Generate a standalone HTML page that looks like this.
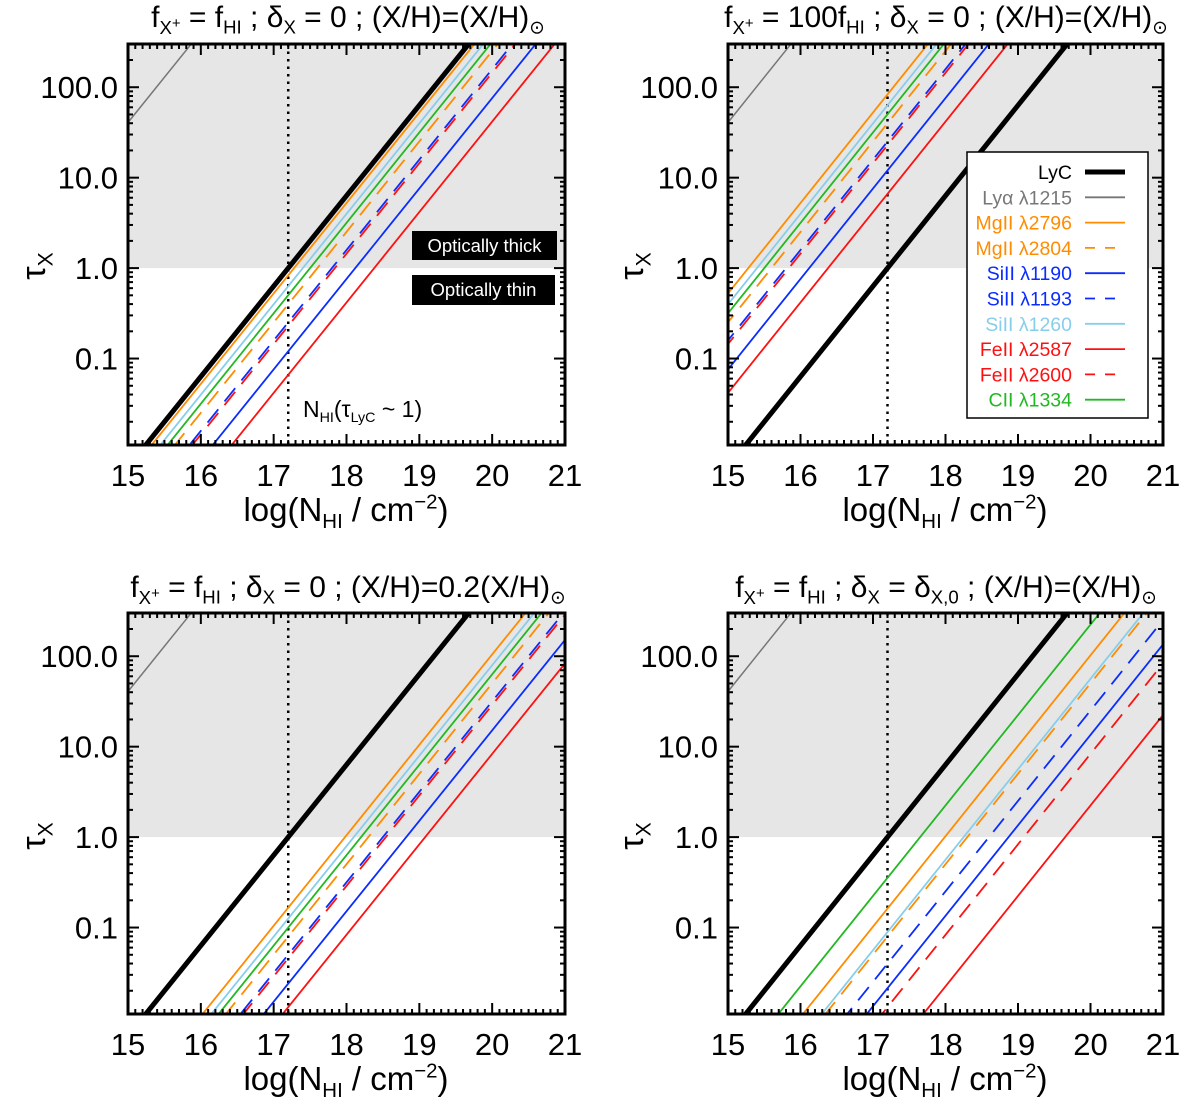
<!DOCTYPE html>
<html style="overflow:hidden"><head><meta charset="utf-8"><style>
html,body{margin:0;background:#fff;width:1200px;height:1107px;overflow:hidden}
body{position:relative;font-family:"Liberation Sans",Arial,sans-serif}
svg{position:absolute;left:0;top:0}
.t{position:absolute;font-size:30px;line-height:32px;white-space:nowrap;transform:translateX(-50%);color:#000}
.xl{position:absolute;font-size:33px;line-height:36px;white-space:nowrap;transform:translateX(-50%)}
.yl{position:absolute;font-size:34px;line-height:36px;white-space:nowrap;transform:translate(-50%,-50%) rotate(-90deg)}
sub{font-size:62%;vertical-align:-0.35em;line-height:0}
sup{font-size:62%;vertical-align:0.6em;line-height:0}
.sub2 sup{font-size:80%;vertical-align:0.4em}
</style></head><body>
<svg id="c" width="1200" height="1107"></svg>
<div class="t" style="left:348px;top:2px">f<sub class="sub2">X<sup>+</sup></sub> = f<sub>HI</sub> ; δ<sub>X</sub> = 0 ; (X/H)=(X/H)<sub>⊙</sub></div>
<div class="t" style="left:946px;top:2px">f<sub class="sub2">X<sup>+</sup></sub> = 100f<sub>HI</sub> ; δ<sub>X</sub> = 0 ; (X/H)=(X/H)<sub>⊙</sub></div>
<div class="t" style="left:348px;top:572px">f<sub class="sub2">X<sup>+</sup></sub> = f<sub>HI</sub> ; δ<sub>X</sub> = 0 ; (X/H)=0.2(X/H)<sub>⊙</sub></div>
<div class="t" style="left:946px;top:572px">f<sub class="sub2">X<sup>+</sup></sub> = f<sub>HI</sub> ; δ<sub>X</sub> = δ<sub>X,0</sub> ; (X/H)=(X/H)<sub>⊙</sub></div>
<div class="xl" style="left:346px;top:492px">log(N<sub>HI</sub> / cm<sup>−2</sup>)</div>
<div class="xl" style="left:945px;top:492px">log(N<sub>HI</sub> / cm<sup>−2</sup>)</div>
<div class="xl" style="left:346px;top:1061px">log(N<sub>HI</sub> / cm<sup>−2</sup>)</div>
<div class="xl" style="left:945px;top:1061px">log(N<sub>HI</sub> / cm<sup>−2</sup>)</div>
<div class="yl" style="left:34px;top:266px">τ<sub>X</sub></div>
<div class="yl" style="left:632px;top:266px">τ<sub>X</sub></div>
<div class="yl" style="left:34px;top:836px">τ<sub>X</sub></div>
<div class="yl" style="left:632px;top:836px">τ<sub>X</sub></div>
<div style="position:absolute;left:303px;top:396px;font-size:23px;line-height:26px;white-space:nowrap">N<sub>HI</sub>(τ<sub>LyC</sub> ~ 1)</div>
<div style="position:absolute;left:412px;top:231px;width:145px;height:29px;background:#000;color:#fff;font-size:18.5px;line-height:29px;text-align:center">Optically thick</div>
<div style="position:absolute;left:412px;top:275px;width:143px;height:30px;background:#000;color:#fff;font-size:18.5px;line-height:30px;text-align:center">Optically thin</div>
<script>
// data
const seriesNames=["LyA1215","MgII2804","MgII2796","SiII1260","CII1334","FeII2600","SiII1193","FeII2587","SiII1190","LyC"];
const seriesColors=["#777777","#ff8c00","#ff8c00","#87ceeb","#22b822","#ff1010","#0a2cff","#ff1010","#0a2cff","#000000"];
const seriesDashed=[false,true,false,false,false,true,true,false,false,false];
// logN(HI) at which tau = 1 for each series, per panel
const n0TopLeft=[13.39,17.6,17.28,17.4,17.5,17.84,17.8,18.38,18.12,17.2];
const n0TopRight=[13.39,15.6,15.28,15.4,15.5,15.84,15.8,16.38,16.12,17.2];
const n0BottomLeft=[13.39,18.3,17.98,18.1,18.2,18.54,18.5,19.08,18.82,17.2];
const n0BottomRight=[13.39,18.3,17.99,18.25,17.65,19.08,18.6,19.65,18.87,17.2];
const xTicks=[15,16,17,18,19,20,21];
const yTickVals=[0.1,1,10,100];
const yTickLabels=["0.1","1.0","10.0","100.0"];
const nLyCThin=17.2;

const NS="http://www.w3.org/2000/svg";
const svg=document.getElementById('c');
function mk(tag,attrs,parent){const e=document.createElementNS(NS,tag);for(const k in attrs)e.setAttribute(k,attrs[k]);(parent||svg).appendChild(e);return e;}
const panels=[
 {x0:128,x1:565,y0:44,y1:445,n0:n0TopLeft,name:'top-left'},
 {x0:728,x1:1163,y0:44,y1:445,n0:n0TopRight,name:'top-right'},
 {x0:128,x1:565,y0:613,y1:1014,n0:n0BottomLeft,name:'bottom-left'},
 {x0:728,x1:1163,y0:613,y1:1014,n0:n0BottomRight,name:'bottom-right'}];
const LMIN=-1.956,LMAX=2.478,XMIN=15,XMAX=21;
panels.forEach((p,pi)=>{
 const xs=v=>p.x0+(v-XMIN)/(XMAX-XMIN)*(p.x1-p.x0);
 const ys=l=>p.y1-(l-LMIN)/(LMAX-LMIN)*(p.y1-p.y0);
 const g=mk('g',{});
 
 
 const cid='clip'+pi;
 const cp=mk('clipPath',{id:cid},g);mk('rect',{x:p.x0,y:p.y0,width:p.x1-p.x0,height:p.y1-p.y0},cp);
 const sh=mk('rect',{x:p.x0,y:p.y0,width:p.x1-p.x0,height:ys(0)-p.y0,fill:'#e6e6e6'},g);
 
 
 const vl=mk('line',{x1:xs(nLyCThin),x2:xs(nLyCThin),y1:p.y0,y2:p.y1,stroke:'#000','stroke-width':2.5,'stroke-dasharray':'2.5 5'},g);
 
 
 const lg=mk('g',{'clip-path':'url(#'+cid+')'},g);
 seriesNames.forEach((s,i)=>{
  const n0=p.n0[i];
  const a=XMIN-1,b=XMAX+1;
  const ln=mk('line',{x1:xs(a),y1:ys(a-n0),x2:xs(b),y2:ys(b-n0),stroke:seriesColors[i],'stroke-width':s==='LyC'?5:(s==='LyA1215'?1.5:1.8)},lg);
  if(seriesDashed[i])ln.setAttribute('stroke-dasharray','17 10');
  
  
 });
 const fr=mk('rect',{x:p.x0,y:p.y0,width:p.x1-p.x0,height:p.y1-p.y0,fill:'none',stroke:'#000','stroke-width':3},g);
 
 
 for(let v=XMIN;v<=XMAX+1e-9;v+=0.1){
  const major=Math.abs(v-Math.round(v))<1e-6;const L=major?11:5;const x=xs(v);
  mk('line',{x1:x,x2:x,y1:p.y1,y2:p.y1-L,stroke:'#000','stroke-width':2},g);
  mk('line',{x1:x,x2:x,y1:p.y0,y2:p.y0+L,stroke:'#000','stroke-width':2},g);
 }
 xTicks.forEach(v=>{const t=mk('text',{x:xs(v),y:p.y1+41,'font-size':31,'text-anchor':'middle'},g);t.textContent=v;
  
  });
 for(let d=-2;d<=2;d++){for(let m=1;m<=9;m++){const l=d+Math.log10(m);if(l<LMIN||l>LMAX)continue;const L=m===1?11:5;const y=ys(l);
  mk('line',{x1:p.x0,x2:p.x0+L,y1:y,y2:y,stroke:'#000','stroke-width':2},g);
  mk('line',{x1:p.x1,x2:p.x1-L,y1:y,y2:y,stroke:'#000','stroke-width':2},g);}}
 yTickVals.forEach((v,i)=>{const t=mk('text',{x:p.x0-10,y:ys(Math.log10(v))+11,'font-size':31,'text-anchor':'end'},g);t.textContent=yTickLabels[i];
  
  });
});
const legendLabels=["LyC","Lyα λ1215","MgII λ2796","MgII λ2804","SiII λ1190","SiII λ1193","SiII λ1260","FeII λ2587","FeII λ2600","CII λ1334"];
const legendColors=["#000","#777777","#ff8c00","#ff8c00","#0a2cff","#0a2cff","#87ceeb","#ff1010","#ff1010","#22b822"];
const legendDashed=[false,false,false,true,false,true,false,false,true,false];
const lgd=mk('g',{});


mk('rect',{x:967,y:152,width:181,height:266,fill:'#fff',stroke:'#000','stroke-width':1.5},lgd);
legendLabels.forEach((s,i)=>{const y=172+i*25.3;
 const t=mk('text',{x:1072,y:y+7,'font-size':19.5,'text-anchor':'end',fill:legendColors[i]},lgd);t.textContent=s;
 
 
 const l=mk('line',{x1:1085,x2:1125,y1:y,y2:y,stroke:legendColors[i],'stroke-width':i===0?5:1.8},lgd);
 if(legendDashed[i])l.setAttribute('stroke-dasharray','10 10');
 
 
});
</script>
</body></html>
